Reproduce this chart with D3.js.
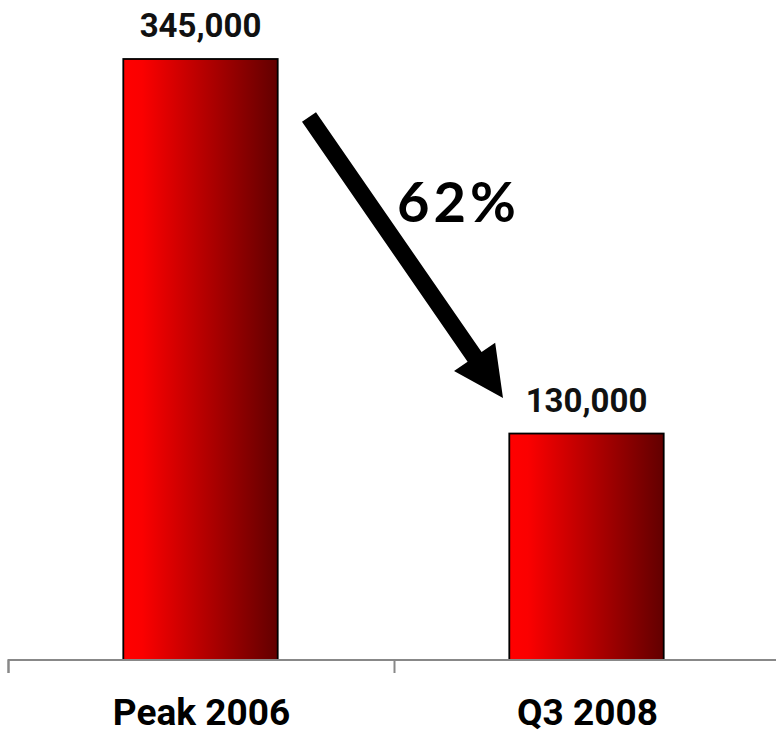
<!DOCTYPE html>
<html>
<head>
<meta charset="utf-8">
<script src="https://cdn.jsdelivr.net/npm/d3@7"></script>
<style>
  html, body { margin: 0; padding: 0; background: #fff; }
  svg { display: block; }
</style>
</head>
<body>
<div id="chart"></div>
<script>
// Home sales: peak versus latest quarter
const categories = ["Peak 2006", "Q3 2008"];
const values = [345000, 130000];
const valueLabels = ["345,000", "130,000"];
const changeLabel = "62%";

const W = 776, H = 736;
const baseY = 660, topY = 59;

const svg = d3.select("#chart").append("svg")
  .attr("width", W).attr("height", H);

const defs = svg.append("defs");
const grad = defs.append("linearGradient")
  .attr("id", "barFill").attr("x1", "0%").attr("x2", "100%")
  .attr("y1", "0%").attr("y2", "0%");
grad.append("stop").attr("offset", "0%").attr("stop-color", "#ff0000");
grad.append("stop").attr("offset", "12%").attr("stop-color", "#fb0000");
grad.append("stop").attr("offset", "100%").attr("stop-color", "#620000");

const x = d3.scaleBand().domain(categories).range([8.5, 780.5]).padding(0);
const y = d3.scaleLinear().domain([0, 345000]).range([baseY, topY]);
const barW = x.bandwidth() * 0.40;

// bars
svg.selectAll("rect.bar").data(values).join("rect")
  .attr("class", "bar")
  .attr("x", (d, i) => x(categories[i]) + x.bandwidth() / 2 - barW / 2 - 1)
  .attr("y", d => y(d))
  .attr("width", barW)
  .attr("height", d => baseY - y(d))
  .attr("fill", "url(#barFill)")
  .attr("stroke", "#000")
  .attr("stroke-width", 1.8);

// value labels
svg.selectAll("text.val").data(values).join("text")
  .attr("class", "val")
  .attr("x", (d, i) => x(categories[i]) + x.bandwidth() / 2 - 1)
  .attr("y", d => y(d) - 22)
  .attr("text-anchor", "middle")
  .attr("font-family", "Roboto, sans-serif")
  .attr("font-weight", 700)
  .attr("font-size", 33)
  .attr("fill", "#111")
  .text((d, i) => valueLabels[i]);

// category axis
const axis = d3.axisBottom(x).tickSize(13).tickFormat("");
const gx = svg.append("g").attr("transform", `translate(0,${baseY})`).call(axis);
gx.select(".domain").attr("stroke", "#888").attr("stroke-width", 2)
  .attr("d", `M${x.range()[0]},13V0H${x.range()[1]}`);
gx.selectAll(".tick").remove();
const bounds = categories.map(c => x(c)).concat([x.range()[1]]);
gx.selectAll("line.sep").data(bounds).join("line")
  .attr("class", "sep")
  .attr("x1", d => d).attr("x2", d => d)
  .attr("y1", 0).attr("y2", 13)
  .attr("stroke", "#888").attr("stroke-width", 2);

svg.selectAll("text.cat").data(categories).join("text")
  .attr("class", "cat")
  .attr("x", d => x(d) + x.bandwidth() / 2)
  .attr("y", 725)
  .attr("text-anchor", "middle")
  .attr("font-family", "Roboto, sans-serif")
  .attr("font-weight", 700)
  .attr("font-size", 37)
  .attr("fill", "#000")
  .text(d => d);

// decline arrow from the peak bar down to the latest bar
const start = [309, 117];
const tip = [503, 398];
const dx = tip[0] - start[0], dy = tip[1] - start[1];
const len = Math.hypot(dx, dy);
const ux = dx / len, uy = dy / len, nx = -uy, ny = ux;
const shaftHalf = 8.5, headHalf = 25, headLen = 50;
const bx = tip[0] - ux * headLen, by = tip[1] - uy * headLen;
const pts = [
  [start[0] + nx * shaftHalf, start[1] + ny * shaftHalf],
  [bx + nx * shaftHalf, by + ny * shaftHalf],
  [bx + nx * headHalf, by + ny * headHalf],
  tip,
  [bx - nx * headHalf, by - ny * headHalf],
  [bx - nx * shaftHalf, by - ny * shaftHalf],
  [start[0] - nx * shaftHalf, start[1] - ny * shaftHalf]
];
svg.append("path")
  .attr("d", d3.line()(pts) + "Z")
  .attr("fill", "#000");

svg.append("text")
  .attr("x", 397)
  .attr("y", 222)
  .attr("font-family", "Lato, sans-serif")
  .attr("font-weight", 700)
  .attr("font-size", 56)
  .attr("letter-spacing", 4)
  .attr("fill", "#000")
  .text(changeLabel);
</script>
</body>
</html>
